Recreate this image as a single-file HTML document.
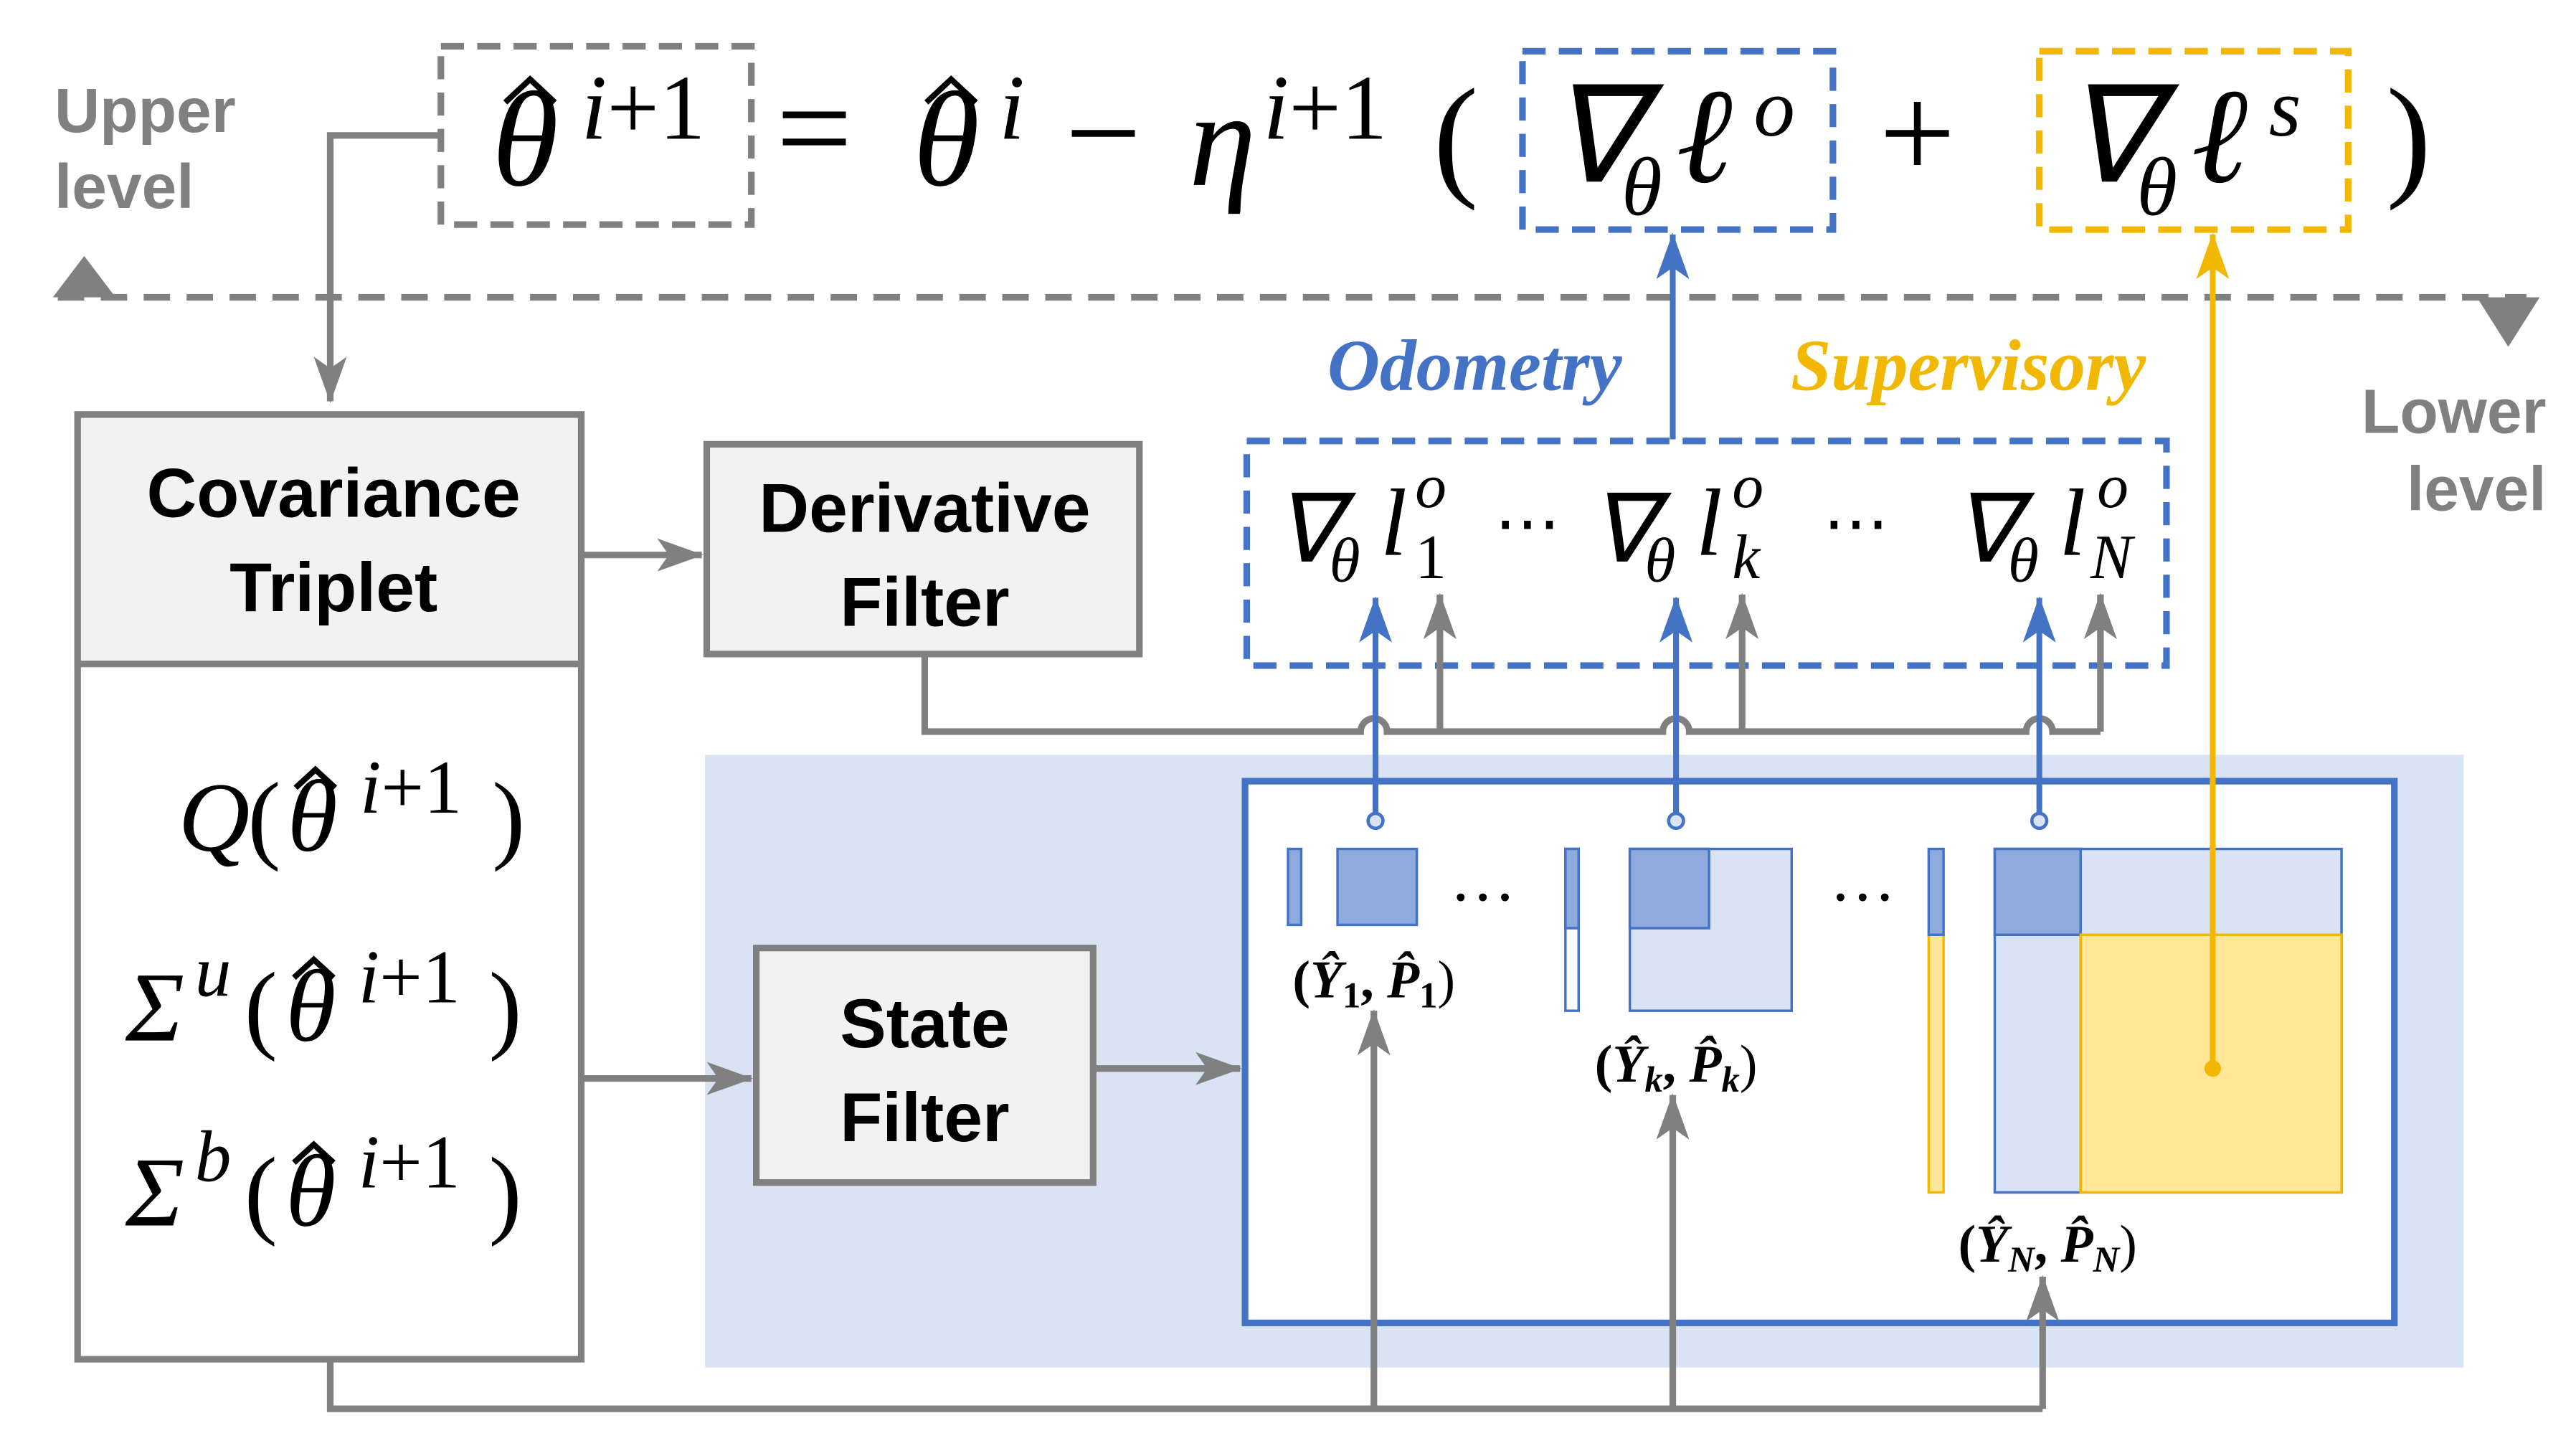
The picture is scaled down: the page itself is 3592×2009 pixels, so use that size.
<!DOCTYPE html>
<html><head><meta charset="utf-8"><style>html,body{margin:0;padding:0;background:#fff}svg{display:block}</style></head>
<body>
<svg xmlns="http://www.w3.org/2000/svg" width="3592" height="2009" viewBox="0 0 1560 872.5">
<defs>
<marker id="agb" markerWidth="28" markerHeight="20" refX="27" refY="10" orient="auto" markerUnits="userSpaceOnUse"><path d="M0,0 L28,10 L0,20 L7,10 Z" fill="#808080"/></marker>
<marker id="ab" markerWidth="28" markerHeight="20" refX="27" refY="10" orient="auto" markerUnits="userSpaceOnUse"><path d="M0,0 L28,10 L0,20 L7,10 Z" fill="#4472c4"/></marker>
<marker id="ay" markerWidth="28" markerHeight="20" refX="27" refY="10" orient="auto" markerUnits="userSpaceOnUse"><path d="M0,0 L28,10 L0,20 L7,10 Z" fill="#f2b800"/></marker>
</defs>
<style>
text{font-family:"Liberation Serif",serif;fill:#000}
.i{font-style:italic}
.b{font-family:"Liberation Sans",sans-serif;font-weight:bold}
.g{fill:#808080}
.hat{fill:none;stroke:#000;stroke-width:3.5}
</style>

<text class="b g" x="33" y="80" font-size="38">Upper</text>
<text class="b g" x="33" y="126" font-size="38">level</text>
<text class="b g" x="1542" y="262" font-size="38" text-anchor="end">Lower</text>
<text class="b g" x="1542" y="309" font-size="38" text-anchor="end">level</text>
<line x1="35" y1="180" x2="1530" y2="180" stroke="#808080" stroke-width="4" stroke-dasharray="16,10"/>
<path d="M32,180 L51,155 L70,180 Z" fill="#808080"/>
<path d="M1500,180 L1538,180 L1519,210 Z" fill="#808080"/>

<rect x="267" y="28" width="188" height="108" fill="none" stroke="#808080" stroke-width="4" stroke-dasharray="14,8"/>
<text class="i" x="298" y="112" font-size="82">θ</text>
<path class="hat" d="M306,62 L321,48 L336,62"/>
<text x="352" y="84" font-size="56"><tspan class="i">i</tspan>+1</text>
<text x="470" y="105" font-size="82">=</text>
<text class="i" x="553" y="112" font-size="82">θ</text>
<path class="hat" d="M561,62 L576,48 L591,62"/>
<text class="i" x="605" y="84" font-size="56">i</text>
<text x="645" y="108" font-size="82">−</text>
<text class="i" x="720" y="112" font-size="82">η</text>
<text x="765" y="84" font-size="56"><tspan class="i">i</tspan>+1</text>
<text x="868" y="110" font-size="82">(</text>

<rect x="922" y="31" width="188" height="108" fill="none" stroke="#4472c4" stroke-width="4" stroke-dasharray="14,8"/>
<text class="i" x="938" y="110" font-size="82">∇</text>
<text class="i" x="982" y="130" font-size="50">θ</text>
<text class="i" x="1015" y="110" font-size="82">ℓ</text>
<text class="i" x="1062" y="82" font-size="50">o</text>
<text x="1138" y="108" font-size="82">+</text>
<rect x="1235" y="31" width="187" height="108" fill="none" stroke="#f2b800" stroke-width="4" stroke-dasharray="14,8"/>
<text class="i" x="1250" y="110" font-size="82">∇</text>
<text class="i" x="1294" y="130" font-size="50">θ</text>
<text class="i" x="1327" y="110" font-size="82">ℓ</text>
<text class="i" x="1374" y="82" font-size="50">s</text>
<text x="1445" y="110" font-size="82">)</text>

<polyline points="266,82 200,82 200,243" fill="none" stroke="#808080" stroke-width="4" marker-end="url(#agb)"/>

<rect x="47" y="251" width="305" height="572" fill="#fff" stroke="#808080" stroke-width="4"/>
<rect x="47" y="251" width="305" height="151" fill="#f2f2f2" stroke="#808080" stroke-width="4"/>
<text class="b" x="202" y="313" font-size="42" text-anchor="middle">Covariance</text>
<text class="b" x="202" y="370" font-size="42" text-anchor="middle">Triplet</text>

<text class="i" x="108" y="515" font-size="60">Q</text>
<text x="150" y="515" font-size="60">(</text>
<text class="i" x="174" y="515" font-size="62">θ</text>
<path class="hat" d="M179,477 L191,466 L203,477" stroke-width="3"/>
<text x="218" y="492" font-size="46"><tspan class="i">i</tspan>+1</text>
<text x="298" y="515" font-size="60">)</text>

<text class="i" x="76" y="630" font-size="60">Σ</text>
<text class="i" x="118" y="603" font-size="44">u</text>
<text x="148" y="630" font-size="60">(</text>
<text class="i" x="173" y="630" font-size="62">θ</text>
<path class="hat" d="M178,592 L190,581 L202,592" stroke-width="3"/>
<text x="217" y="607" font-size="46"><tspan class="i">i</tspan>+1</text>
<text x="296" y="630" font-size="60">)</text>

<text class="i" x="76" y="742" font-size="60">Σ</text>
<text class="i" x="118" y="715" font-size="44">b</text>
<text x="148" y="742" font-size="60">(</text>
<text class="i" x="173" y="742" font-size="62">θ</text>
<path class="hat" d="M178,704 L190,693 L202,704" stroke-width="3"/>
<text x="217" y="719" font-size="46"><tspan class="i">i</tspan>+1</text>
<text x="296" y="742" font-size="60">)</text>

<rect x="428" y="269" width="262" height="127" fill="#f2f2f2" stroke="#808080" stroke-width="4"/>
<text class="b" x="560" y="322" font-size="42" text-anchor="middle">Derivative</text>
<text class="b" x="560" y="379" font-size="42" text-anchor="middle">Filter</text>
<line x1="352" y1="336" x2="425" y2="336" stroke="#808080" stroke-width="4" marker-end="url(#agb)"/>

<rect x="427" y="457" width="1065" height="371" fill="#dae3f3"/>
<rect x="458" y="574" width="204" height="142" fill="#f2f2f2" stroke="#808080" stroke-width="4"/>
<text class="b" x="560" y="634" font-size="42" text-anchor="middle">State</text>
<text class="b" x="560" y="691" font-size="42" text-anchor="middle">Filter</text>
<line x1="352" y1="653" x2="455" y2="653" stroke="#808080" stroke-width="4" marker-end="url(#agb)"/>
<line x1="662" y1="647" x2="751" y2="647" stroke="#808080" stroke-width="4" marker-end="url(#agb)"/>

<rect x="754" y="473" width="696" height="328" fill="#fff" stroke="#4472c4" stroke-width="4"/>

<rect x="780" y="514" width="8" height="46" fill="#8faadc" stroke="#4472c4" stroke-width="1.5"/>
<rect x="810" y="514" width="48" height="46" fill="#8faadc" stroke="#4472c4" stroke-width="1.5"/>
<text x="898" y="545" font-size="40" text-anchor="middle">…</text>
<rect x="948" y="514" width="8" height="98" fill="#fff" stroke="#4472c4" stroke-width="1.5"/>
<rect x="948" y="514" width="8" height="48" fill="#8faadc" stroke="#4472c4" stroke-width="1.5"/>
<rect x="987" y="514" width="98" height="98" fill="#dae3f3" stroke="#4472c4" stroke-width="1.5"/>
<rect x="987" y="514" width="48" height="48" fill="#8faadc" stroke="#4472c4" stroke-width="1.5"/>
<text x="1128" y="545" font-size="40" text-anchor="middle">…</text>
<rect x="1168" y="566" width="9" height="156" fill="#ffe699" stroke="#f2b800" stroke-width="1.5"/>
<rect x="1168" y="514" width="9" height="52" fill="#8faadc" stroke="#4472c4" stroke-width="1.5"/>
<rect x="1208" y="514" width="210" height="208" fill="#dae3f3" stroke="#4472c4" stroke-width="1.5"/>
<rect x="1208" y="514" width="52" height="52" fill="#8faadc" stroke="#4472c4" stroke-width="1.5"/>
<rect x="1260" y="566" width="158" height="156" fill="#ffe699" stroke="#f2b800" stroke-width="1.5"/>

<text x="832" y="604" font-size="32" text-anchor="middle" font-weight="bold">(<tspan class="i">Ŷ</tspan><tspan font-size="22" dy="6">1</tspan><tspan dy="-6">, </tspan><tspan class="i">P̂</tspan><tspan font-size="22" dy="6">1</tspan><tspan dy="-6" font-weight="normal">)</tspan></text>
<text x="1015" y="655" font-size="32" text-anchor="middle" font-weight="bold">(<tspan class="i">Ŷ</tspan><tspan class="i" font-size="22" dy="6">k</tspan><tspan dy="-6">, </tspan><tspan class="i">P̂</tspan><tspan class="i" font-size="22" dy="6">k</tspan><tspan dy="-6" font-weight="normal">)</tspan></text>
<text x="1240" y="764" font-size="32" text-anchor="middle" font-weight="bold">(<tspan class="i">Ŷ</tspan><tspan class="i" font-size="22" dy="6">N</tspan><tspan dy="-6">, </tspan><tspan class="i">P̂</tspan><tspan class="i" font-size="22" dy="6">N</tspan><tspan dy="-6" font-weight="normal">)</tspan></text>

<polyline points="200,823 200,853 1237,853" fill="none" stroke="#808080" stroke-width="4"/>
<line x1="832" y1="853" x2="832" y2="612" stroke="#808080" stroke-width="4" marker-end="url(#agb)"/>
<line x1="1013" y1="853" x2="1013" y2="663" stroke="#808080" stroke-width="4" marker-end="url(#agb)"/>
<line x1="1237" y1="853" x2="1237" y2="773" stroke="#808080" stroke-width="4" marker-end="url(#agb)"/>

<rect x="755" y="267" width="557" height="136" fill="none" stroke="#4472c4" stroke-width="4" stroke-dasharray="14,8"/>
<text class="i" x="772" y="340" font-size="58">∇</text>
<text class="i" x="805" y="352" font-size="38">θ</text>
<text class="i" x="836" y="336" font-size="58">l</text>
<text class="i" x="857" y="307" font-size="38">o</text>
<text x="857" y="350" font-size="38">1</text>
<text x="925" y="330" font-size="40" text-anchor="middle">⋯</text>
<text class="i" x="963" y="340" font-size="58">∇</text>
<text class="i" x="996" y="352" font-size="38">θ</text>
<text class="i" x="1027" y="336" font-size="58">l</text>
<text class="i" x="1049" y="307" font-size="38">o</text>
<text class="i" x="1049" y="350" font-size="38">k</text>
<text x="1124" y="330" font-size="40" text-anchor="middle">⋯</text>
<text class="i" x="1183" y="340" font-size="58">∇</text>
<text class="i" x="1216" y="352" font-size="38">θ</text>
<text class="i" x="1247" y="336" font-size="58">l</text>
<text class="i" x="1270" y="307" font-size="38">o</text>
<text class="i" x="1266" y="350" font-size="38">N</text>

<path d="M560,396 L560,443 L824,443 A8,8 0 0 1 840,443 L1007,443 A8,8 0 0 1 1023,443 L1227,443 A8,8 0 0 1 1243,443 L1272,443" fill="none" stroke="#808080" stroke-width="4"/>
<line x1="872" y1="443" x2="872" y2="360" stroke="#808080" stroke-width="4" marker-end="url(#agb)"/>
<line x1="1055" y1="443" x2="1055" y2="360" stroke="#808080" stroke-width="4" marker-end="url(#agb)"/>
<line x1="1272" y1="443" x2="1272" y2="360" stroke="#808080" stroke-width="4" marker-end="url(#agb)"/>

<line x1="833" y1="497" x2="833" y2="362" stroke="#4472c4" stroke-width="3.5" marker-end="url(#ab)"/>
<line x1="1015" y1="497" x2="1015" y2="362" stroke="#4472c4" stroke-width="3.5" marker-end="url(#ab)"/>
<line x1="1235" y1="497" x2="1235" y2="362" stroke="#4472c4" stroke-width="3.5" marker-end="url(#ab)"/>
<circle cx="833" cy="497" r="4.5" fill="#dae3f3" stroke="#4472c4" stroke-width="2"/>
<circle cx="1015" cy="497" r="4.5" fill="#dae3f3" stroke="#4472c4" stroke-width="2"/>
<circle cx="1235" cy="497" r="4.5" fill="#dae3f3" stroke="#4472c4" stroke-width="2"/>
<line x1="1013" y1="266" x2="1013" y2="142" stroke="#4472c4" stroke-width="3.5" marker-end="url(#ab)"/>

<line x1="1340" y1="647" x2="1340" y2="142" stroke="#f2b800" stroke-width="3.5" marker-end="url(#ay)"/>
<circle cx="1340" cy="647" r="5" fill="#f2b800"/>

<text x="893" y="236" font-size="44" font-style="italic" font-weight="bold" text-anchor="middle" style="fill:#4472c4">Odometry</text>
<text x="1192" y="236" font-size="44" font-style="italic" font-weight="bold" text-anchor="middle" style="fill:#f2b800">Supervisory</text>
</svg>
</body></html>
